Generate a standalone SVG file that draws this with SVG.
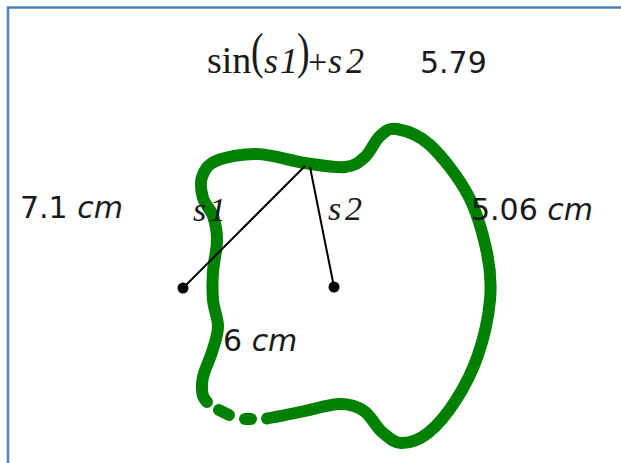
<svg xmlns="http://www.w3.org/2000/svg" width="621" height="463" viewBox="0 0 621 463">
<style>
.sans{font-family:"DejaVu Sans",Verdana,sans-serif;font-size:30px;fill:#1a1a1a}
.it{font-style:italic}
.serif{font-family:"Liberation Serif","Times New Roman",serif;fill:#1a1a1a}
.curve{fill:none;stroke:#008000;stroke-width:12;stroke-linecap:round;stroke-linejoin:round}
.seg{stroke:#000;stroke-width:2;fill:none}
.pt{fill:#000}
</style>
<rect width="621" height="463" fill="#fff"/>
<path d="M8,463 V7.5 H621" fill="none" stroke="#4f81bd" stroke-width="2.5"/>
<g id="formula">
<text class="serif" font-size="38" x="207" y="73">sin</text>
<text class="serif" font-size="38" transform="translate(251,68) scale(1,1.35)">(</text>
<text class="serif it" font-size="36" x="264" y="73">s</text>
<text class="serif it" font-size="36" x="280" y="73">1</text>
<text class="serif" font-size="38" transform="translate(297,68) scale(1,1.35)">)</text>
<text class="serif" font-size="34" x="308" y="73">+</text>
<text class="serif it" font-size="36" x="328" y="73">s</text>
<text class="serif it" font-size="36" x="346" y="73">2</text>
</g>
<g id="value"><text class="sans" x="420" y="73">5.79</text></g>
<g id="shape">
<path class="curve" d="M267,418.5 C276,417 288,414.5 300,412 C313,409.5 329.3,404.2 340,404 C350.7,403.8 357,406.3 364,411 C371,415.7 375.8,426.7 382,432 C388.2,437.3 393.3,442.8 401,443 C408.7,443.2 418.8,440.2 428,433 C437.2,425.8 447.7,413 456,400 C464.3,387 472.3,371.7 478,355 C483.7,338.3 488.5,317 490,300 C491.5,283 490.7,270.5 487,253 C483.3,235.5 477.5,213 468,195 C458.5,177 441.8,156 430,145 C418.2,134 405.3,130.5 397,129 C388.7,127.5 385.3,131.3 380,136 C374.7,140.7 370.8,151.8 365,157 C359.2,162.2 355,166 345,167 C335,168 319.7,165.2 305,163 C290.3,160.8 271.8,154.3 257,154 C242.2,153.7 225.2,157.2 216,161 C206.8,164.8 204.2,170.8 202,177 C199.8,183.2 201.2,191.5 203,198 C204.8,204.5 210.7,209 213,216 C215.3,223 217,230.7 217,240 C217,249.3 213.7,262 213,272 C212.3,282 212.2,290.8 213,300 C213.8,309.2 218.2,318.3 218,327 C217.8,335.7 214.5,343.7 212,352 C209.5,360.3 204.5,369.7 203,377 C201.5,384.3 201.7,391.3 203,396 C204,399 205.5,400.5 207,402"/>
<path class="curve" d="M219,410 L229,415"/>
<path class="curve" d="M245,419 L251,419"/>
</g>
<g id="connectors">
<line class="seg" x1="305" y1="166" x2="183" y2="288"/>
<line class="seg" x1="310" y1="167" x2="334" y2="287"/>
</g>
<g id="point1"><circle class="pt" cx="183" cy="288" r="5.5"/></g>
<g id="point2"><circle class="pt" cx="334" cy="287" r="5.5"/></g>
<g id="labels">
<text class="sans" x="20" y="218">7.1 <tspan class="it">cm</tspan></text>
<text class="sans" x="471" y="220">5.06 <tspan class="it">cm</tspan></text>
<text class="sans" x="223" y="351">6 <tspan class="it">cm</tspan></text>
<text class="serif it" font-size="34" x="193" y="221">s</text>
<text class="serif it" font-size="34" x="209" y="221">1</text>
<text class="serif it" font-size="34" x="328" y="220">s</text>
<text class="serif it" font-size="34" x="345" y="220">2</text>
</g>
</svg>
